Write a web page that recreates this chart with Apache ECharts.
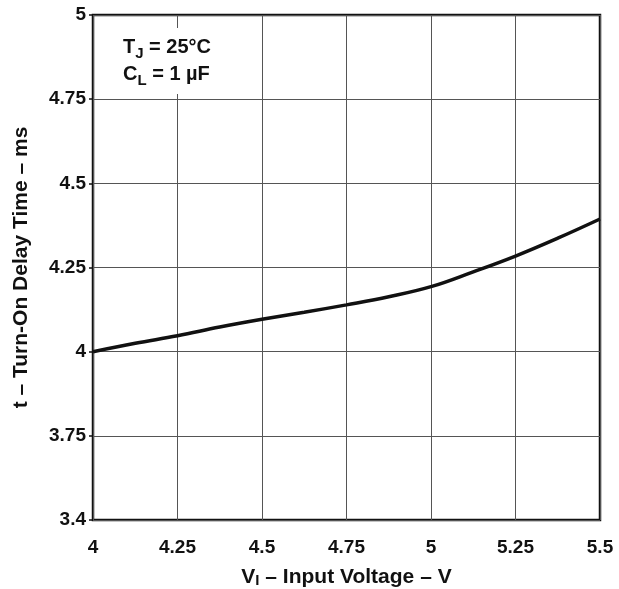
<!DOCTYPE html>
<html>
<head>
<meta charset="utf-8">
<script src="https://cdn.jsdelivr.net/npm/echarts@6/dist/echarts.min.js"></script>
<style>html,body{margin:0;padding:0;background:#fff;}#c{width:619px;height:589px;}</style>
</head>
<body>
<div id="c"></div>
<script>
// Data
const inputVoltage = [4.0, 4.125, 4.25, 4.375, 4.5, 4.625, 4.75, 4.875, 5.0, 5.125, 5.25, 5.375, 5.5];
const delayTime    = [4.0, 4.025, 4.047, 4.073, 4.096, 4.117, 4.139, 4.163, 4.193, 4.237, 4.284, 4.337, 4.394];
const xTickLabels = ['4', '4.25', '4.5', '4.75', '5', '5.25', '5.5'];
const yTickValues = [3.5, 3.75, 4, 4.25, 4.5, 4.75, 5];
const yTickLabels = ['3.4', '3.75', '4', '4.25', '4.5', '4.75', '5'];

const FONT = 'Liberation Sans, Arial, Helvetica, sans-serif';
const chart = echarts.init(document.getElementById('c'));
const pts = inputVoltage.map((v, i) => [v, delayTime[i]]);

chart.setOption({
  animation: false,
  backgroundColor: '#fff',
  grid: { left: 93, right: 19, top: 15, bottom: 69, containLabel: false, outerBoundsMode: 'none',
          show: true, borderColor: '#111', borderWidth: 2.5 },
  xAxis: {
    type: 'value', min: 4, max: 5.5, interval: 0.25,
    axisLine: { show: false },
    axisTick: { show: false },
    splitLine: { show: true, lineStyle: { color: '#555', width: 1 } },
    axisLabel: {
      color: '#111', fontFamily: FONT, fontWeight: 'bold', fontSize: 19, margin: 18,
      formatter: (v) => { const i = Math.round((v - 4) / 0.25); return xTickLabels[i] ?? ''; }
    },
    name: 'V{s|I} – Input Voltage – V',
    nameLocation: 'middle', nameGap: 47,
    nameTextStyle: {
      color: '#111', fontFamily: FONT, fontWeight: 'bold', fontSize: 21,
      rich: { s: { fontFamily: FONT, fontWeight: 'bold', fontSize: 15, verticalAlign: 'bottom', color: '#111' } }
    }
  },
  yAxis: {
    type: 'value', min: 3.5, max: 5, interval: 0.25,
    axisLine: { show: false },
    axisTick: { show: true, length: 4, inside: false, lineStyle: { color: '#111', width: 1.5 } },
    splitLine: { show: true, lineStyle: { color: '#555', width: 1 } },
    axisLabel: {
      color: '#111', fontFamily: FONT, fontWeight: 'bold', fontSize: 19, margin: 7,
      formatter: (v) => { const i = yTickValues.findIndex(t => Math.abs(t - v) < 1e-6); return i >= 0 ? yTickLabels[i] : ''; }
    },
    name: 't – Turn-On Delay Time – ms',
    nameLocation: 'middle', nameGap: 61, nameRotate: 90,
    nameTextStyle: { color: '#111', fontFamily: FONT, fontWeight: 'bold', fontSize: 21 }
  },
  graphic: [
    { type: 'rect', left: 117, top: 28, shape: { width: 108, height: 66 }, style: { fill: '#fff' }, z: 10 },
    { type: 'text', left: 123, top: 34, z: 11,
      style: {
        text: 'T{s|J} = 25°C\nC{s|L} = 1 µF',
        fill: '#111', font: 'bold 20px ' + FONT, lineHeight: 27,
        rich: {
          s: { font: 'bold 15px ' + FONT, fill: '#111', verticalAlign: 'bottom', lineHeight: 27 }
        }
      }
    }
  ],
  series: [{
    type: 'line', data: pts, smooth: 0.4, showSymbol: false,
    lineStyle: { color: '#111', width: 3.5 }, z: 5
  }]
});
</script>
</body>
</html>
